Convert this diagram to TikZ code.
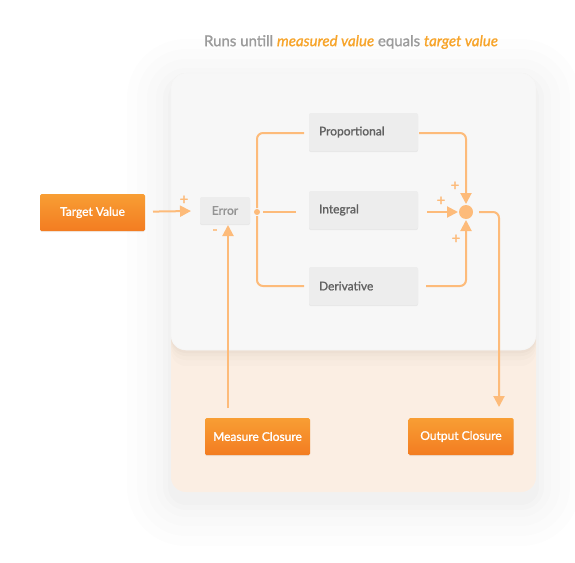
\documentclass[tikz,border=0pt]{standalone}
\usepackage{fontspec}
\setmainfont{Lato}
\newfontfamily\mediumfont{Lato}[FakeBold=1.3]
\usepackage{tikz}
\usetikzlibrary{arrows.meta}
\usetikzlibrary{calc}
\usetikzlibrary{positioning}

\definecolor{linkorange}{RGB}{253,187,122}
\definecolor{boxtop}{RGB}{248,158,52}
\definecolor{boxbottom}{RGB}{243,124,33}
\definecolor{blockgray}{RGB}{237,237,237}
\definecolor{panelgray}{RGB}{247,247,247}
\definecolor{peach}{RGB}{251,238,227}
\definecolor{titlegray}{RGB}{155,155,155}
\definecolor{titleorange}{RGB}{247,164,42}

\begin{document}
\begin{tikzpicture}[x=1pt,y=-1pt,>={Triangle[length=11pt,width=11pt]},line width=2pt,font=\mediumfont\fontsize{12}{14}\selectfont]
  \tikzstyle{lift}=[preaction={fill=black,opacity=0.06,transform canvas={yshift=-1.2pt}}]
  \tikzstyle{orangebox}=[lift,draw=none,top color=boxtop,bottom color=boxbottom,text=white,minimum width=105pt,minimum height=37pt,rounded corners=1.5pt,inner sep=0pt]
  \tikzstyle{block}=[lift,fill=blockgray,text=black!62,minimum width=109pt,minimum height=38pt,rounded corners=2pt,text width=89pt,align=left,inner sep=0pt]
  \tikzstyle{link}=[draw=linkorange,rounded corners=6pt]
  \tikzstyle{sign}=[text=linkorange,inner sep=0pt,font=\mediumfont\fontsize{15}{15}\selectfont]

  \useasboundingbox (0,0) rectangle (575,562);

  % faint shadow and panels
  \foreach \d/\o in {44/0.006,34/0.007,24/0.008,15/0.009,8/0.01,3/0.012}
    \fill[black,opacity=\o,rounded corners=15pt+\d pt] (171-\d,73-\d+10) rectangle (536+\d,492+\d+10);
  \fill[peach,rounded corners=15pt] (171,73) rectangle (536,492);
  \foreach \d/\o in {16/0.01,10/0.015,6/0.02,3/0.025}
    \fill[black!60!brown,opacity=\o,rounded corners=15pt] (171,73) rectangle (536,350+\d);
  \fill[panelgray,draw=black!4,line width=0.6pt,rounded corners=15pt] (171,73) rectangle (536,350);

  \node[font=\mediumfont\fontsize{15}{17}\selectfont,text=titlegray] (title) at (351,42)
    {Runs untill {\color{titleorange}\itshape measured value} equals {\color{titleorange}\itshape target value}};

  % blocks
  \node[orangebox] (target) at (92.5,212.5) {Target Value};
  \node[lift,fill=blockgray,text=black!42,minimum width=50pt,minimum height=27pt,rounded corners=2pt,inner sep=0pt] (err) at (225,210.5) {Error};
  \node[block] (prop) at (363.5,132) {Proportional};
  \node[block] (integ) [below=38pt of prop] {Integral};
  \node[block] (deriv) [below=36pt of integ] {Derivative};
  \node[orangebox] (meas) at (257.5,436.5) {Measure Closure};
  \node[orangebox] (outc) at (461,436.5) {Output Closure};

  \node[circle,fill=linkorange,minimum size=6pt,inner sep=0pt] (split) at (257,212) {};
  \node[circle,fill=linkorange,minimum size=14pt,inner sep=0pt] (sum) at (466,212) {};
  \coordinate (meastail) at (228,408);
  \coordinate (outtip) at (499,407);

  \node[sign] (p1) at (184,200) {+};
  \node[sign] (m1) at (215,232) {-};
  \node[sign] (p2) at (455,186) {+};
  \node[sign] (p3) at (441,201) {+};
  \node[sign] (p4) at (456,239) {+};

  % connectors
  \draw[link,->,shorten <=7pt,shorten >=8pt] (target) -- (err);
  \draw[link,->] (meastail) -- (meastail |- err.south);
  \draw[link,shorten >=4pt] (split) |- ($(prop.west)+(0,1)$);
  \draw[link,shorten <=2pt,shorten >=12pt] (split) -- (integ.west |- split);
  \draw[link,shorten >=4pt] (split) |- (deriv.west);
  \draw[link,->] ($(prop.east)+(0,1)$) -| (sum);
  \draw[link,->,shorten <=8pt] (integ.east |- sum) -- (sum);
  \draw[link,->,shorten <=7pt] (deriv.east) -| (sum);
  \draw[link,->,shorten <=5pt] (sum) -| (outtip);
\end{tikzpicture}
\end{document}
